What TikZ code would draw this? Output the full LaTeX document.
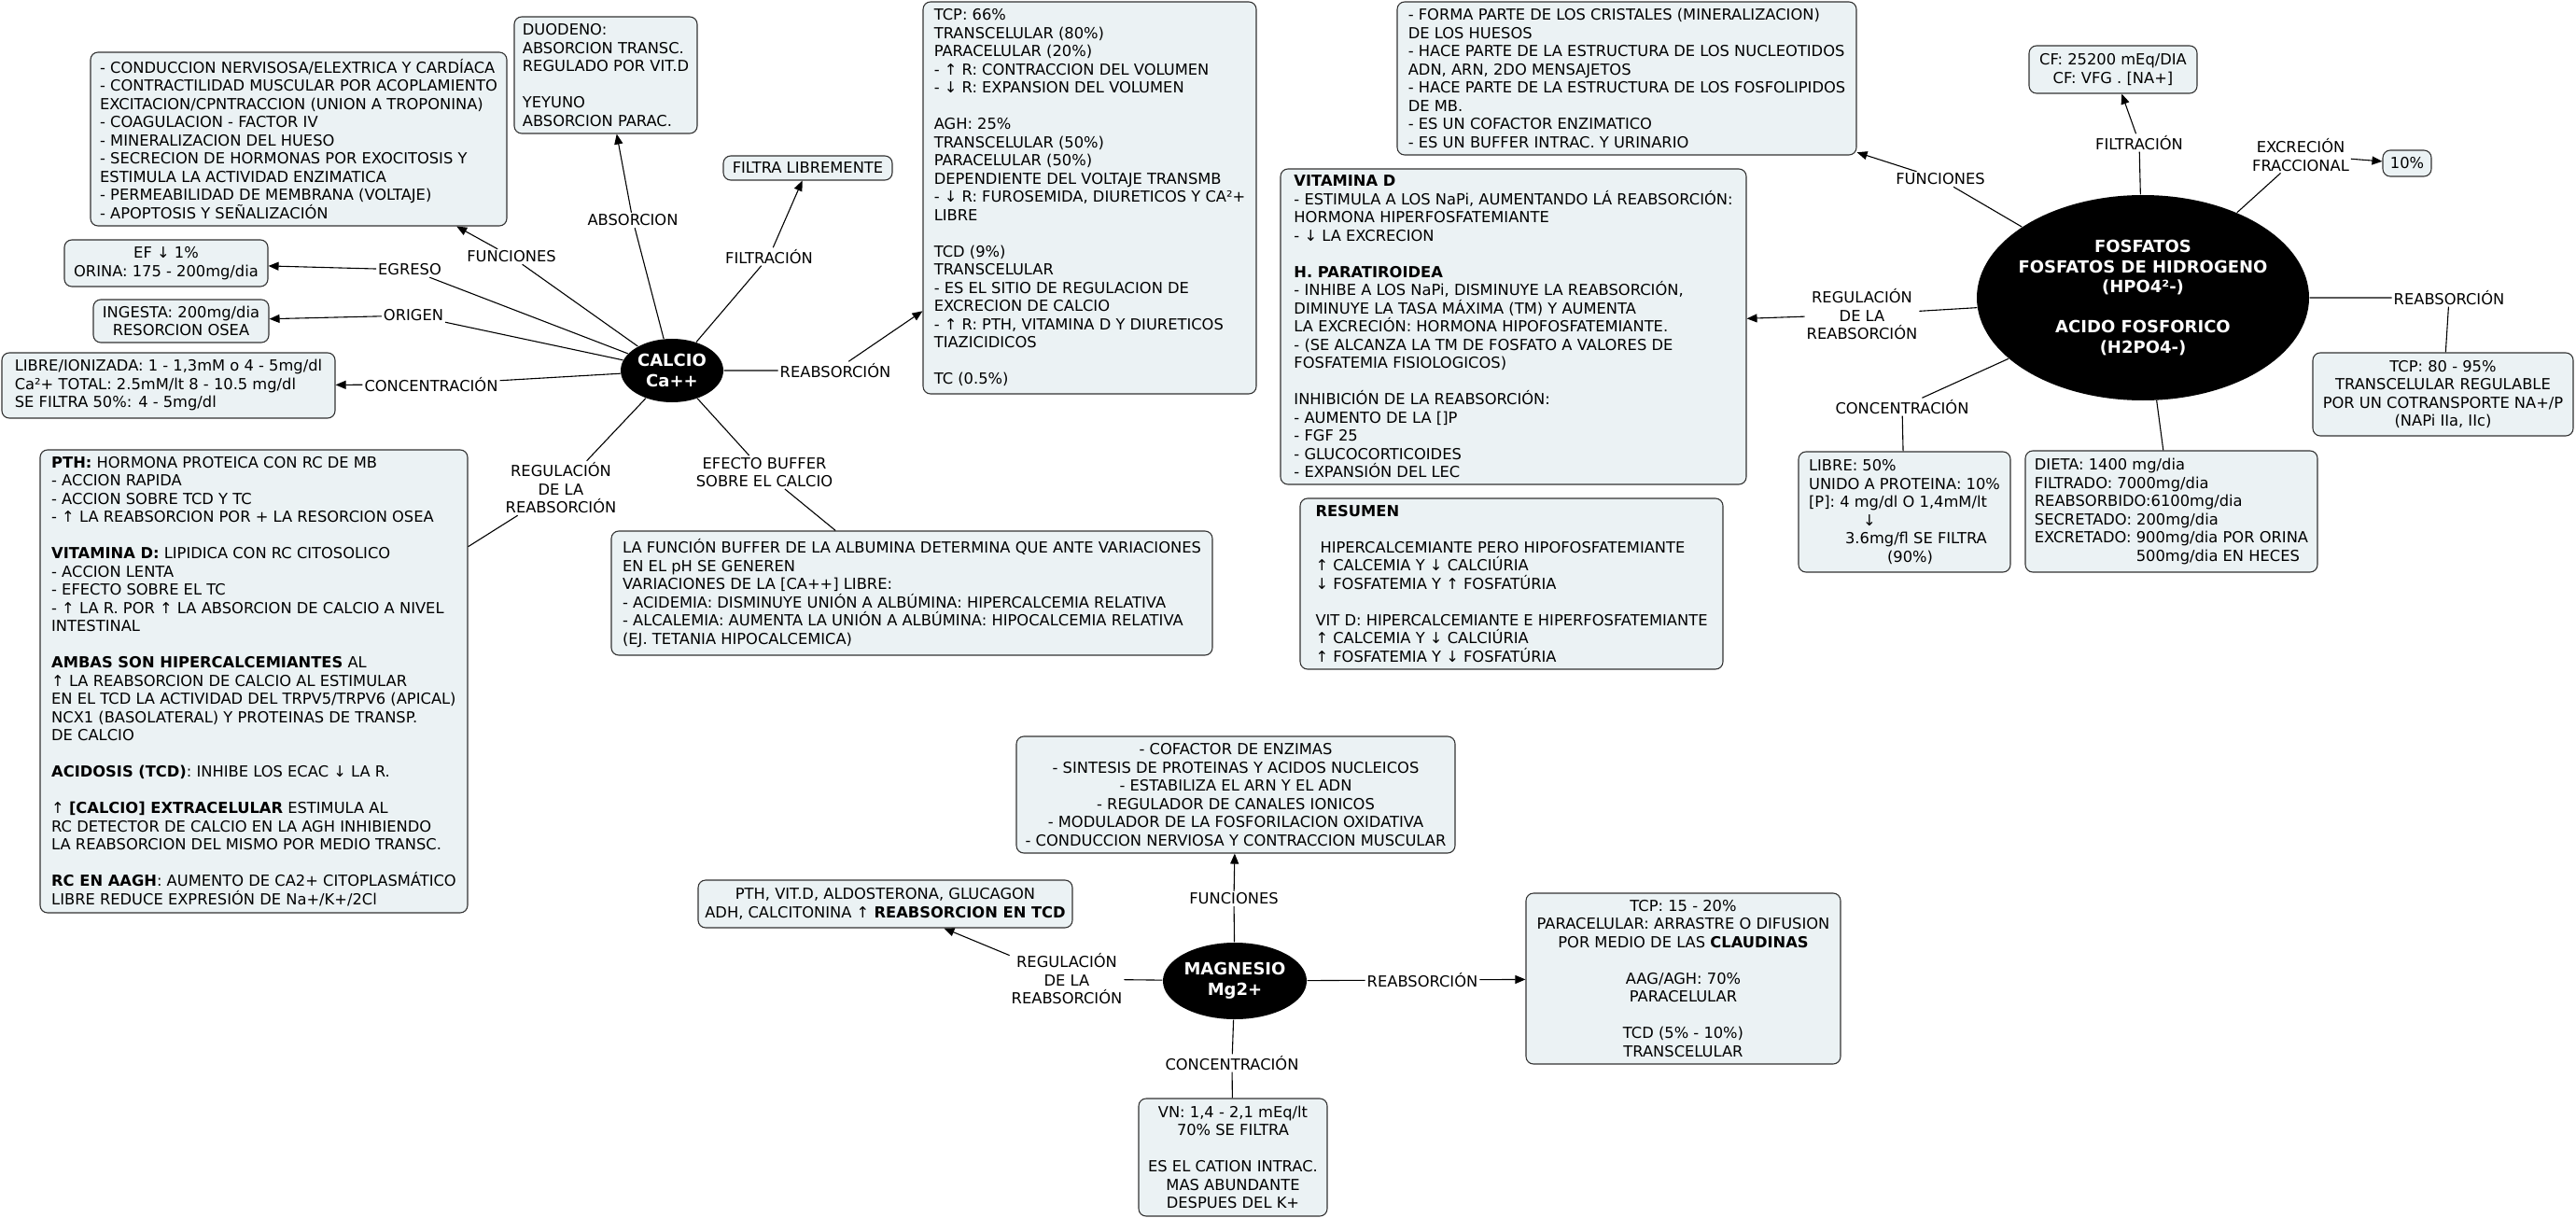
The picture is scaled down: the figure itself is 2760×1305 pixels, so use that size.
\documentclass[tikz,border=0pt]{standalone}
\usepackage{fontspec}
\setmainfont{DejaVu Sans}
\usepackage{tikz}
\usetikzlibrary{shapes.geometric, arrows.meta}
\definecolor{boxfill}{HTML}{EBF2F4}

\begin{document}
\begin{tikzpicture}[x=1pt, y=-1pt, line width=1.1pt,
    >={Triangle[length=11pt,width=9pt]},
    box/.style={draw=black!80, fill=boxfill, rounded corners=8pt, align=left, inner sep=0pt, font=\fontsize{16.3}{19.5}\selectfont},
    cbox/.style={box, align=center},
    concept/.style={ellipse, fill=black, text=white, align=center, inner sep=0pt, font=\bfseries\fontsize{18}{21.5}\selectfont},
    lbl/.style={align=center, inner sep=1.5pt, font=\fontsize{16.3}{19.5}\selectfont}]
    \useasboundingbox (0,0) rectangle (2760,1305);

    \node[concept, minimum width=110pt, minimum height=68pt] (ca) at (720,397) {CALCIO\\Ca++};
    \node[concept, minimum width=356pt, minimum height=220pt, inner xsep=-40pt] (fos) at (2296,319) {FOSFATOS\\FOSFATOS DE HIDROGENO\\(HPO4²-)\\~\\ACIDO FOSFORICO\\(H2PO4-)};
    \node[concept, minimum width=148pt, minimum height=82pt] (mg) at (1323,1051) {MAGNESIO\\Mg2+};

    \node[box, minimum width=446pt, minimum height=186pt] (cafun) at (320,149) {- CONDUCCION NERVISOSA/ELEXTRICA Y CARDÍACA\\- CONTRACTILIDAD MUSCULAR POR ACOPLAMIENTO\\EXCITACION/CPNTRACCION (UNION A TROPONINA)\\- COAGULACION - FACTOR IV\\- MINERALIZACION DEL HUESO\\- SECRECION DE HORMONAS POR EXOCITOSIS Y\\ESTIMULA LA ACTIVIDAD ENZIMATICA\\- PERMEABILIDAD DE MEMBRANA (VOLTAJE)\\- APOPTOSIS Y SEÑALIZACIÓN};
    \node[box, minimum width=196pt, minimum height=125pt] (caabs) at (649,80.5) {DUODENO:\\ABSORCION TRANSC.\\REGULADO POR VIT.D\\~\\YEYUNO\\ABSORCION PARAC.};
    \node[box, minimum width=181pt, minimum height=26pt] (cafil) at (865.5,180) {FILTRA LIBREMENTE};
    \node[box, minimum width=357pt, minimum height=420pt] (carea) at (1167.5,212) {TCP: 66\%\\TRANSCELULAR (80\%)\\PARACELULAR (20\%)\\- ↑ R: CONTRACCION DEL VOLUMEN\\- ↓ R: EXPANSION DEL VOLUMEN\\~\\AGH: 25\%\\TRANSCELULAR (50\%)\\PARACELULAR (50\%)\\DEPENDIENTE DEL VOLTAJE TRANSMB\\- ↓ R: FUROSEMIDA, DIURETICOS Y CA²+\\LIBRE\\~\\TCD (9\%)\\TRANSCELULAR\\- ES EL SITIO DE REGULACION DE\\EXCRECION DE CALCIO\\- ↑ R: PTH, VITAMINA D Y DIURETICOS\\TIAZICIDICOS\\~\\TC (0.5\%)};
    \node[cbox, minimum width=218pt, minimum height=50pt] (caegr) at (178,282) {EF ↓ 1\%\\ORINA: 175 - 200mg/dia};
    \node[cbox, minimum width=188pt, minimum height=46pt] (caori) at (194,344) {INGESTA: 200mg/dia\\RESORCION OSEA};
    \node[box, minimum width=357pt, minimum height=70pt] (cacon) at (180.5,413) {LIBRE/IONIZADA: 1 - 1,3mM o 4 - 5mg/dl\\Ca²+ TOTAL: 2.5mM/lt 8 - 10.5 mg/dl\\SE FILTRA 50\%: 4 - 5mg/dl};
    \node[box, minimum width=458pt, minimum height=496pt] (careg) at (272,730) {\textbf{PTH:} HORMONA PROTEICA CON RC DE MB\\- ACCION RAPIDA\\- ACCION SOBRE TCD Y TC\\- ↑ LA REABSORCION POR + LA RESORCION OSEA\\~\\\textbf{VITAMINA D:} LIPIDICA CON RC CITOSOLICO\\- ACCION LENTA\\- EFECTO SOBRE EL TC\\- ↑ LA R. POR ↑ LA ABSORCION DE CALCIO A NIVEL\\INTESTINAL\\~\\\textbf{AMBAS SON HIPERCALCEMIANTES} AL\\↑ LA REABSORCION DE CALCIO AL ESTIMULAR\\EN EL TCD LA ACTIVIDAD DEL TRPV5/TRPV6 (APICAL)\\NCX1 (BASOLATERAL) Y PROTEINAS DE TRANSP.\\DE CALCIO\\~\\\textbf{ACIDOSIS (TCD)}: INHIBE LOS ECAC ↓ LA R.\\~\\↑ \textbf{[CALCIO] EXTRACELULAR} ESTIMULA AL\\RC DETECTOR DE CALCIO EN LA AGH INHIBIENDO\\LA REABSORCION DEL MISMO POR MEDIO TRANSC.\\~\\\textbf{RC EN AAGH}: AUMENTO DE CA2+ CITOPLASMÁTICO\\LIBRE REDUCE EXPRESIÓN DE Na+/K+/2Cl};
    \node[box, minimum width=644pt, minimum height=133pt] (cabuf) at (977,635.5) {LA FUNCIÓN BUFFER DE LA ALBUMINA DETERMINA QUE ANTE VARIACIONES\\EN EL pH SE GENEREN\\VARIACIONES DE LA [CA++] LIBRE:\\- ACIDEMIA: DISMINUYE UNIÓN A ALBÚMINA: HIPERCALCEMIA RELATIVA\\- ALCALEMIA: AUMENTA LA UNIÓN A ALBÚMINA: HIPOCALCEMIA RELATIVA\\(EJ. TETANIA HIPOCALCEMICA)};

    \node[box, minimum width=492pt, minimum height=164pt] (fosfun) at (1743,84) {- FORMA PARTE DE LOS CRISTALES (MINERALIZACION)\\DE LOS HUESOS\\- HACE PARTE DE LA ESTRUCTURA DE LOS NUCLEOTIDOS\\ADN, ARN, 2DO MENSAJETOS\\- HACE PARTE DE LA ESTRUCTURA DE LOS FOSFOLIPIDOS\\DE MB.\\- ES UN COFACTOR ENZIMATICO\\- ES UN BUFFER INTRAC. Y URINARIO};
    \node[box, minimum width=499pt, minimum height=338pt] (fosreg) at (1621.5,350) {\textbf{VITAMINA D}\\- ESTIMULA A LOS NaPi, AUMENTANDO LÁ REABSORCIÓN:\\HORMONA HIPERFOSFATEMIANTE\\- ↓ LA EXCRECION\\~\\\textbf{H. PARATIROIDEA}\\- INHIBE A LOS NaPi, DISMINUYE LA REABSORCIÓN,\\DIMINUYE LA TASA MÁXIMA (TM) Y AUMENTA\\LA EXCRECIÓN: HORMONA HIPOFOSFATEMIANTE.\\- (SE ALCANZA LA TM DE FOSFATO A VALORES DE\\FOSFATEMIA FISIOLOGICOS)\\~\\INHIBICIÓN DE LA REABSORCIÓN:\\- AUMENTO DE LA []P\\- FGF 25\\- GLUCOCORTICOIDES\\- EXPANSIÓN DEL LEC};
    \node[box, minimum width=453pt, minimum height=183pt] (resumen) at (1619.5,625.5) {\textbf{RESUMEN}\\~\\\hspace*{5pt}HIPERCALCEMIANTE PERO HIPOFOSFATEMIANTE\\↑ CALCEMIA Y ↓ CALCIÚRIA\\↓ FOSFATEMIA Y ↑ FOSFATÚRIA\\~\\VIT D: HIPERCALCEMIANTE E HIPERFOSFATEMIANTE\\↑ CALCEMIA Y ↓ CALCIÚRIA\\↑ FOSFATEMIA Y ↓ FOSFATÚRIA};
    \node[cbox, minimum width=180pt, minimum height=51pt] (fosfil) at (2264,74.5) {CF: 25200 mEq/DIA\\CF: VFG . [NA+]};
    \node[cbox, minimum width=52pt, minimum height=28pt] (fosexc) at (2579,175) {10\%};
    \node[cbox, minimum width=279pt, minimum height=89pt] (fosrea) at (2617.5,422.5) {TCP: 80 - 95\%\\TRANSCELULAR REGULABLE\\POR UN COTRANSPORTE NA+/P\\(NAPi IIa, IIc)};
    \node[box, minimum width=227pt, minimum height=129pt] (foscon) at (2040.5,548.5) {LIBRE: 50\%\\UNIDO A PROTEINA: 10\%\\{}[P]: 4 mg/dl O 1,4mM/lt\\\hspace*{58pt}↓\\\hspace*{39pt}3.6mg/fl SE FILTRA\\\hspace*{84pt}(90\%)};
    \node[box, minimum width=313pt, minimum height=130pt] (dieta) at (2326.5,548) {DIETA: 1400 mg/dia\\FILTRADO: 7000mg/dia\\REABSORBIDO:6100mg/dia\\SECRETADO: 200mg/dia\\EXCRETADO: 900mg/dia POR ORINA\\\phantom{EXCRETADO: }500mg/dia EN HECES};

    \node[cbox, minimum width=470pt, minimum height=125pt] (mgfun) at (1324,851.5) {- COFACTOR DE ENZIMAS\\- SINTESIS DE PROTEINAS Y ACIDOS NUCLEICOS\\- ESTABILIZA EL ARN Y EL ADN\\- REGULADOR DE CANALES IONICOS\\- MODULADOR DE LA FOSFORILACION OXIDATIVA\\- CONDUCCION NERVIOSA Y CONTRACCION MUSCULAR};
    \node[cbox, minimum width=401pt, minimum height=51pt] (mgreg) at (948.5,968.5) {PTH, VIT.D, ALDOSTERONA, GLUCAGON\\ADH, CALCITONINA ↑ \textbf{REABSORCION EN TCD}};
    \node[cbox, minimum width=337pt, minimum height=183pt] (mgrea) at (1803.5,1048.5) {TCP: 15 - 20\%\\PARACELULAR: ARRASTRE O DIFUSION\\POR MEDIO DE LAS \textbf{CLAUDINAS}\\~\\AAG/AGH: 70\%\\PARACELULAR\\~\\TCD (5\% - 10\%)\\TRANSCELULAR};
    \node[cbox, minimum width=202pt, minimum height=126pt] (mgcon) at (1321,1240) {VN: 1,4 - 2,1 mEq/lt\\70\% SE FILTRA\\~\\ES EL CATION INTRAC.\\MAS ABUNDANTE\\DESPUES DEL K+};

    \node[lbl] (labs) at (678,236) {ABSORCION};
    \node[lbl] (lfun) at (548,275) {FUNCIONES};
    \node[lbl] (legr) at (439,289) {EGRESO};
    \node[lbl] (lori) at (443,338) {ORIGEN};
    \node[lbl] (lcon) at (462,412) {CONCENTRACIÓN};
    \node[lbl] (lfil) at (824,275) {FILTRACIÓN};
    \node[lbl] (lrea) at (895,397) {REABSORCIÓN};
    \node[lbl] (lreg) at (601,523) {REGULACIÓN\\DE LA\\REABSORCIÓN};
    \node[lbl] (lbuf) at (819,506) {EFECTO BUFFER\\SOBRE EL CALCIO};

    \node[lbl] (pfun) at (2079,192) {FUNCIONES};
    \node[lbl] (pfil) at (2292,153) {FILTRACIÓN};
    \node[lbl] (pexc) at (2465,166) {EXCRECIÓN\\FRACCIONAL};
    \node[lbl] (prea) at (2624,319) {REABSORCIÓN};
    \node[lbl] (preg) at (1995,337) {REGULACIÓN\\DE LA\\REABSORCIÓN};
    \node[lbl] (pcon) at (2038,436) {CONCENTRACIÓN};

    \node[lbl] (mfun) at (1322,963) {FUNCIONES};
    \node[lbl] (mreg) at (1143,1049) {REGULACIÓN\\DE LA\\REABSORCIÓN};
    \node[lbl] (mrea) at (1524,1050) {REABSORCIÓN};
    \node[lbl] (mcon) at (1320,1139) {CONCENTRACIÓN};

    \foreach \l/\b in {labs/caabs, lfun/cafun, legr/caegr, lori/caori, lcon/cacon, lfil/cafil, lrea/carea}
        \draw[->] (ca) -- (\l) (\l) -- (\b);
    \draw (ca) -- (lreg) -- (careg);
    \draw (ca) -- (lbuf) -- (cabuf);

    \foreach \l/\b in {pfun/fosfun, pfil/fosfil, pexc/fosexc, preg/fosreg}
        \draw[->] (fos) -- (\l) (\l) -- (\b);
    \draw (fos) -- (prea) -- (fosrea);
    \draw (fos) -- (pcon) -- (foscon);
    \draw (fos) -- (dieta);

    \foreach \l/\b in {mfun/mgfun, mreg/mgreg, mrea/mgrea}
        \draw[->] (mg) -- (\l) (\l) -- (\b);
    \draw (mg) -- (mcon) -- (mgcon);
\end{tikzpicture}
\end{document}
